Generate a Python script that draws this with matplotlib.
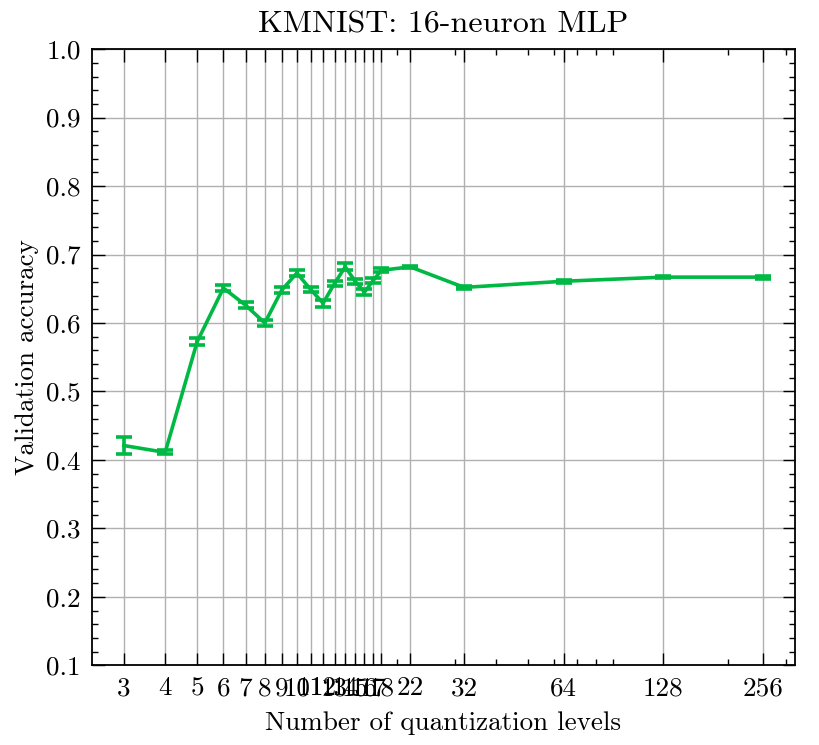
import matplotlib
matplotlib.use("Agg")
import matplotlib.pyplot as plt
from matplotlib.ticker import FixedLocator, FixedFormatter, MultipleLocator, LogLocator, NullFormatter

levels = [3, 4, 5, 6, 7, 8, 9, 10, 11, 12, 13, 14, 15, 16, 17, 18, 22, 32, 64, 128, 256]
acc = [0.421, 0.411, 0.573, 0.651, 0.626, 0.600, 0.648, 0.673, 0.649, 0.629,
       0.658, 0.682, 0.661, 0.645, 0.662, 0.677, 0.682, 0.652, 0.661, 0.667, 0.667]
err = [0.012, 0.003, 0.005, 0.004, 0.004, 0.004, 0.004, 0.005, 0.004, 0.005,
       0.004, 0.005, 0.004, 0.004, 0.004, 0.003, 0.001, 0.002, 0.002, 0.001, 0.002]
xtick_labels = [str(v) for v in levels]
title = "KMNIST: 16-neuron MLP"
xlabel = "Number of quantization levels"
ylabel = "Validation accuracy"

plt.rcParams['font.family'] = ['cmr10', 'DejaVu Serif']
plt.rcParams['axes.formatter.use_mathtext'] = True

fig = plt.figure(figsize=(8.2, 7.45), dpi=100)
ax = fig.add_axes([0.112, 0.107, 0.8575, 0.827])

ax.errorbar(levels, acc, yerr=err, color='#00B945', lw=2.6, elinewidth=2.6,
            capsize=6, capthick=2.6, zorder=3)

ax.set_xscale('log')
ax.set_ylim(0.1, 1.0)
ax.xaxis.set_major_locator(FixedLocator(levels))
ax.xaxis.set_major_formatter(FixedFormatter(xtick_labels))
ax.xaxis.set_minor_locator(LogLocator(base=10, subs=range(2, 10)))
ax.xaxis.set_minor_formatter(NullFormatter())
ax.yaxis.set_major_locator(MultipleLocator(0.1))
ax.yaxis.set_minor_locator(MultipleLocator(0.02))
ax.yaxis.set_major_formatter(matplotlib.ticker.FormatStrFormatter('%.1f'))

ax.grid(True, which='major', color='#b0b0b0', lw=1.0, zorder=0)
ax.tick_params(which='both', direction='in', top=True, right=True, labelsize=19.5, width=1.0)
ax.tick_params(which='major', length=9, pad=8)
ax.tick_params(which='minor', length=4.5)
for s in ax.spines.values():
    s.set_linewidth(1.3)

ax.set_title(title, fontsize=23, pad=12)
ax.set_xlabel(xlabel, fontsize=19.5, labelpad=8)
ax.set_ylabel(ylabel, fontsize=19.5, labelpad=5)

fig.savefig('out.png', dpi=100)
